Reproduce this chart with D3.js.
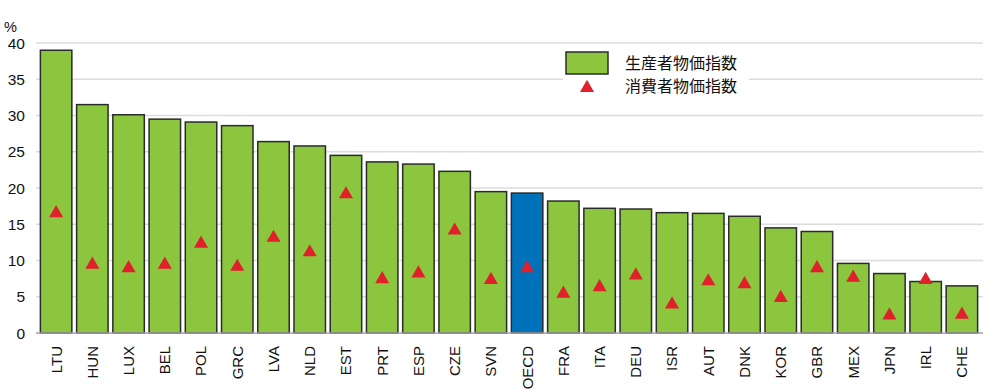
<!DOCTYPE html>
<html><head><meta charset="utf-8">
<script src="https://cdn.jsdelivr.net/npm/d3@7"></script>
<style>body{margin:0;background:#fff}svg{display:block}</style>
</head><body>
<svg id="c" width="1002" height="390"></svg>
<script>
const categories = ["LTU","HUN","LUX","BEL","POL","GRC","LVA","NLD","EST","PRT","ESP","CZE","SVN","OECD","FRA","ITA","DEU","ISR","AUT","DNK","KOR","GBR","MEX","JPN","IRL","CHE"];
const ppi = [39.0,31.5,30.1,29.5,29.1,28.6,26.4,25.8,24.5,23.6,23.3,22.3,19.5,19.3,18.2,17.2,17.1,16.6,16.5,16.1,14.5,14.0,9.6,8.2,7.1,6.5];
const cpi = [16.8,9.7,9.2,9.7,12.6,9.4,13.4,11.4,19.4,7.7,8.5,14.4,7.6,9.2,5.7,6.6,8.2,4.2,7.4,7.0,5.1,9.2,7.9,2.7,7.6,2.8];
const yTicks = [0,5,10,15,20,25,30,35,40];
const seriesNames = ["生産者物価指数","消費者物価指数"];
const highlight = "OECD";

const svg = d3.select("#c");
const x = d3.scaleBand().domain(categories).range([38,980]).paddingInner(0.09).paddingOuter(0.045);
const y = d3.scaleLinear().domain([0,40]).range([333,43]);
const font = "'Liberation Sans', Arial, sans-serif";

// grid
svg.append("g").selectAll("line").data(yTicks.filter(d=>d>0)).join("line")
  .attr("x1",36).attr("x2",983).attr("y1",d=>y(d)).attr("y2",d=>y(d))
  .attr("stroke","#dcdcdc").attr("stroke-width",1.3);

// y labels
svg.append("g").selectAll("text").data(yTicks).join("text")
  .attr("x",25).attr("y",d=>y(d)).attr("dy","0.36em").attr("text-anchor","end")
  .attr("font-family",font).attr("font-size",15.5).attr("fill","#111").text(d=>d);
svg.append("text").attr("x",4).attr("y",32).attr("font-family",font).attr("font-size",14.5).attr("fill","#111").text("%");

// bars
svg.append("g").selectAll("rect").data(categories).join("rect")
  .attr("x",d=>x(d)+0.75).attr("width",x.bandwidth()-1.5)
  .attr("y",(d,i)=>y(ppi[i])).attr("height",(d,i)=>y(0)-y(ppi[i]))
  .attr("fill",d=>d===highlight?"#0072bc":"#8cc63f")
  .attr("stroke","#2b2b2b").attr("stroke-width",1.5);

// axis line
svg.append("line").attr("x1",36).attr("x2",983).attr("y1",y(0)).attr("y2",y(0))
  .attr("stroke","#a0a0a0").attr("stroke-width",1.5);

// triangles
function tri(cx,cy){const p=d3.path();p.moveTo(cx,cy-6.2);p.lineTo(cx+7,cy+6);p.lineTo(cx-7,cy+6);p.closePath();return p.toString();}
svg.append("g").selectAll("path").data(categories).join("path")
  .attr("d",(d,i)=>tri(x(d)+x.bandwidth()/2,y(cpi[i]))).attr("fill","#e0202b");

// x labels
svg.append("g").selectAll("text").data(categories).join("text")
  .attr("transform",d=>`translate(${x(d)+x.bandwidth()/2},346) rotate(-90)`)
  .attr("dy","0.36em").attr("text-anchor","end")
  .attr("font-family",font).attr("font-size",15).attr("fill","#111").text(d=>d);

// legend
const lg = svg.append("g");
lg.append("rect").attr("x",563).attr("y",48).attr("width",186).attr("height",50).attr("fill","#fff");
lg.append("rect").attr("x",566).attr("y",52).attr("width",42).attr("height",22).attr("fill","#8cc63f").attr("stroke","#2b2b2b").attr("stroke-width",1.5);
lg.append("path").attr("d",tri(587,86)).attr("fill","#e0202b");
lg.selectAll("text").data(seriesNames).join("text")
  .attr("x",625).attr("y",(d,i)=>69+i*23)
  .attr("font-family","'Noto Sans CJK JP', sans-serif").attr("font-size",16).attr("fill","#111").text(d=>d);
</script>
</body></html>
